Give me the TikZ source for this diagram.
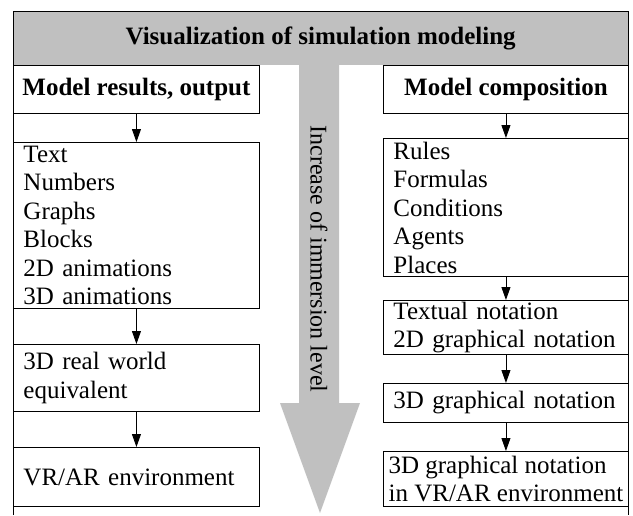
\documentclass[tikz,border=0pt]{standalone}
\usepackage{fontspec}
\setmainfont{Liberation Serif}
\usetikzlibrary{arrows.meta}
\definecolor{bandgray}{RGB}{192,192,192}
\tikzset{
  pic/.style={x=1pt,y=-1pt},
  txt/.style={font=\fontsize{25}{28.5}\selectfont},
  bx/.style={txt, draw, line width=0.9pt, rectangle, anchor=north west, inner xsep=10pt, inner ysep=0pt, align=left, fill=white},
  lbox/.style={bx, text width=226pt},
  rbox/.style={bx, text width=225pt},
  hbox/.style={bx, align=center, inner xsep=0pt, font=\fontsize{25}{28.5}\selectfont\bfseries},
  arr/.style={line width=0.9pt, -{Triangle[length=13pt,width=9pt]}},
  frame/.style={line width=0.9pt},
}
\begin{document}
\begin{tikzpicture}[pic]
\useasboundingbox (0,0) rectangle (633,515);
% header band
\node[fill=bandgray, draw=none, anchor=north west, minimum width=615pt, minimum height=54pt, inner sep=0pt,
      font=\fontsize{25}{28.5}\selectfont\bfseries] (hdr) at (13,11) {Visualization of simulation modeling};
% big gray arrow
\fill[bandgray] (299,64) -- (299,403) -- (280,403) -- (320,513) -- (360,403) -- (339,403) -- (339,64) -- cycle;
\node[txt, rotate=-90, font=\fontsize{24}{28}\selectfont] (imm) at (319,259) {Increase of immersion level};
% frame
\draw[frame] (13,515) -- (13,11) -- (628,11) -- (628,515);
% left column
\node[hbox, minimum width=246pt, minimum height=48pt] (lh) at (13,65) {Model results, output};
\node[lbox, minimum height=166pt] (l1) at (13,142) {Text\\Numbers\\Graphs\\Blocks\\2D animations\\3D animations};
\node[lbox, minimum height=67pt] (l2) at (13,344) {3D real world\\equivalent};
\node[lbox, minimum height=59pt] (l3) at (13,447) {VR/AR environment};
% right column
\node[hbox, minimum width=245pt, minimum height=48pt] (rh) at (383,65) {Model composition};
\node[rbox, minimum height=138pt] (r1) at (383,138) {Rules\\Formulas\\Conditions\\Agents\\Places};
\node[rbox, minimum height=54pt] (r2) at (383,300) {Textual notation\\2D graphical notation};
\node[rbox, minimum height=39pt] (r3) at (383,383) {3D graphical notation};
\node[bx, inner xsep=0pt, minimum width=245pt, minimum height=55pt] (r4) at (383,451) {3D graphical notation\\in VR/AR environment};
% connectors
\draw[arr] (lh.south) -- (l1.north);
\draw[arr] (l1.south) -- (l2.north);
\draw[arr] (l2.south) -- (l3.north);
\draw[arr] (rh.south) -- (r1.north);
\draw[arr] (r1.south) -- (r2.north);
\draw[arr] (r2.south) -- (r3.north);
\draw[arr] (r3.south) -- (r4.north);
\end{tikzpicture}
\end{document}
